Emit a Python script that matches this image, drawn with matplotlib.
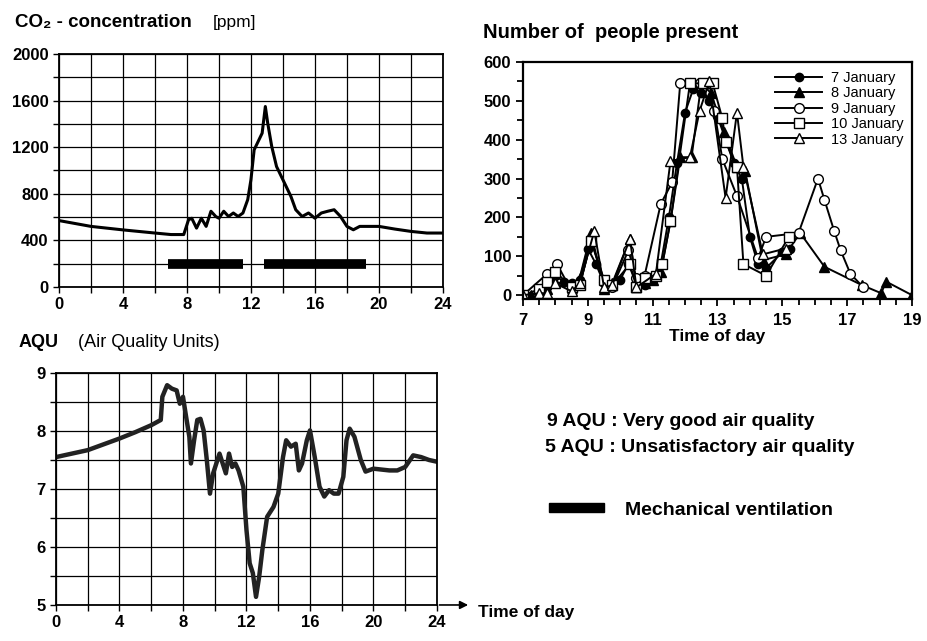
import matplotlib.pyplot as plt
import matplotlib.ticker as mticker
from matplotlib.patches import Rectangle, FancyArrowPatch

plt.rcParams['font.family'] = ['Liberation Sans', 'DejaVu Sans']

# CO2 concentration over the day
co2_hours = [0, 2, 4, 6, 7, 7.8, 8.1, 8.3, 8.6, 8.9, 9.2, 9.5, 9.8, 10, 10.3, 10.6, 10.9, 11.2, 11.5,
             11.8, 12.0, 12.2, 12.5, 12.7, 12.9, 13.05, 13.3, 13.6, 14, 14.5, 14.8, 15.2, 15.6, 16,
             16.4, 16.8, 17.2, 17.6, 18, 18.4, 18.8, 19.2, 20, 21, 22, 23, 24]
co2_ppm = [570, 520, 490, 463, 450, 450, 577, 590, 505, 590, 520, 650, 605, 590, 650, 605, 635, 605, 635,
           750, 920, 1177, 1263, 1320, 1549, 1405, 1206, 1034, 920, 777, 663, 605, 635, 590,
           635, 650, 663, 605, 520, 491, 520, 520, 520, 497, 477, 463, 463]
vent_start = [6.8, 12.8]
vent_end = [11.5, 19.2]

# AQU over the day
aqu_hours = [0, 2, 4, 5, 6, 6.6, 6.7, 7.0, 7.3, 7.6, 7.8, 8.0, 8.2, 8.4, 8.5, 8.7, 8.9, 9.1, 9.3, 9.5,
             9.7, 9.9, 10.1, 10.3, 10.5, 10.7, 10.9, 11.1, 11.3, 11.5, 11.8, 12.0, 12.2, 12.4, 12.6,
             12.8, 13.0, 13.3, 13.7, 14.0, 14.3, 14.5, 14.8, 15.1, 15.3, 15.5, 15.8, 16.0, 16.3, 16.6,
             16.9, 17.2, 17.5, 17.8, 18.1, 18.3, 18.5, 18.8, 19.2, 19.5, 20, 21, 21.5, 22, 22.5, 23,
             23.5, 24]
aqu_values = [7.55, 7.67, 7.87, 7.98, 8.10, 8.19, 8.59, 8.79, 8.73, 8.70, 8.47, 8.59, 8.24, 7.90, 7.44,
              7.84, 8.19, 8.21, 8.01, 7.50, 6.92, 7.27, 7.44, 7.61, 7.44, 7.27, 7.61, 7.38, 7.44, 7.32,
              7.04, 6.29, 5.72, 5.55, 5.14, 5.49, 5.95, 6.52, 6.69, 6.92, 7.55, 7.84, 7.73, 7.78, 7.32,
              7.44, 7.84, 8.01, 7.55, 7.04, 6.87, 6.98, 6.92, 6.92, 7.21, 7.84, 8.04, 7.90, 7.50, 7.30,
              7.35, 7.32, 7.32, 7.38, 7.58, 7.55, 7.50, 7.47]

# Number of people present
hour_ticks = [7, 9, 11, 13, 15, 17, 19]
jan7_t = [7.0, 7.5, 7.75, 8.0, 8.25, 8.5, 8.75, 9.0, 9.25, 9.5, 9.75, 10.0, 10.25, 10.5, 10.75, 11.0,
          11.25, 11.5, 11.75, 12.0, 12.25, 12.5, 12.75, 13.0, 13.25, 13.5, 13.75, 14.0, 14.25, 14.5,
          15.0, 15.25]
jan7_n = [0, 5, 20, 50, 35, 30, 40, 120, 80, 30, 20, 40, 80, 30, 25, 40,
          80, 200, 340, 470, 530, 520, 500, 460, 400, 340, 300, 150, 80, 70,
          110, 120]
jan8_t = [7.0, 7.25, 7.5, 7.75, 8.0, 8.5, 8.75, 9.1, 9.5, 9.75, 10.3, 10.5, 10.75, 11.0, 11.25, 11.55,
          11.85, 12.2, 12.5, 12.8, 13.2, 13.6, 13.85, 14.4, 15.1, 15.55, 16.3, 17.45, 18.05, 18.2, 19.0]
jan8_n = [0, 0, 5, 15, 35, 20, 45, 160, 15, 30, 145, 20, 30, 40, 60, 190,
          355, 355, 545, 520, 420, 330, 320, 90, 105, 160, 73, 26, 5, 35, 0]
jan9_t = [7.0, 7.75, 8.05, 8.5, 8.75, 9.1, 9.5, 9.75, 10.25, 10.5, 10.75, 11.25, 11.6, 11.85,
          12.15, 12.45, 12.9, 13.15, 13.6, 14.25, 14.5, 15.5, 16.1, 16.3, 16.6, 16.8, 17.1, 17.5]
jan9_n = [0, 55, 80, 10, 25, 140, 35, 20, 115, 45, 50, 235, 290, 545,
          545, 545, 475, 350, 255, 95, 150, 160, 300, 245, 165, 115, 55, 20]
jan10_t = [7.0, 7.5, 7.75, 8.0, 8.5, 8.75, 9.1, 9.5, 9.75, 10.3, 10.5, 10.75, 11.1, 11.3, 11.55,
           12.15, 12.55, 12.85, 13.15, 13.25, 13.6, 13.8, 14.5, 15.2]
jan10_n = [0, 15, 35, 60, 20, 25, 140, 40, 25, 80, 20, 45, 50, 80, 190,
           545, 545, 545, 455, 395, 330, 80, 50, 150]
jan13_t = [7.0, 7.5, 7.75, 8.0, 8.5, 8.75, 9.2, 9.5, 9.75, 10.3, 10.5, 11.1, 11.55, 12.15, 12.45,
           12.75, 13.25, 13.6, 13.8, 14.4, 15.1]
jan13_n = [0, 5, 5, 30, 10, 30, 165, 20, 25, 145, 20, 55, 345, 355, 475,
           550, 250, 470, 330, 105, 120]

fig = plt.figure(figsize=(9.27, 6.41), dpi=100)
TICK_SIZE = 12

# ---- CO2 panel ----
ax1 = fig.add_axes([0.0636, 0.5523, 0.4142, 0.3635])
ax1.plot(co2_hours, co2_ppm, color='black', lw=2.2)
ax1.hlines([200] * len(vent_start), vent_start, vent_end, color='black', lw=7)
ax1.set_xlim(0, 24)
ax1.set_ylim(0, 2000)
ax1.xaxis.set_major_locator(mticker.MultipleLocator(4))
ax1.xaxis.set_minor_locator(mticker.MultipleLocator(2))
ax1.yaxis.set_major_locator(mticker.MultipleLocator(400))
ax1.yaxis.set_minor_locator(mticker.MultipleLocator(200))
ax1.grid(which='both', color='black', lw=0.9)

# ---- people panel ----
ax2 = fig.add_axes([0.5642, 0.5335, 0.4196, 0.3698])
ax2.plot(jan7_t, jan7_n, '-o', color='black', mfc='black', ms=6, lw=1.4, label='7 January')
ax2.plot(jan8_t, jan8_n, '-^', color='black', mfc='black', ms=7, lw=1.4, label='8 January')
ax2.plot(jan9_t, jan9_n, '-o', color='black', mfc='white', ms=7, lw=1.4, label='9 January')
ax2.plot(jan10_t, jan10_n, '-s', color='black', mfc='white', ms=7, lw=1.4, label='10 January')
ax2.plot(jan13_t, jan13_n, '-^', color='black', mfc='white', ms=7, lw=1.4, label='13 January')
ax2.set_xlim(7, 19)
ax2.set_ylim(-10, 600)
ax2.xaxis.set_major_locator(mticker.FixedLocator(hour_ticks))
ax2.xaxis.set_minor_locator(mticker.MultipleLocator(0.5))
ax2.yaxis.set_major_locator(mticker.MultipleLocator(100))
ax2.yaxis.set_minor_locator(mticker.MultipleLocator(50))
ax2.tick_params(which='both', direction='out', width=1.3)
ax2.tick_params(which='major', length=5)
ax2.tick_params(which='minor', length=4)
ax2.tick_params(axis='x', pad=5)
for s in ax2.spines.values():
    s.set_linewidth(1.6)
ax2.set_xlabel('Time of day', fontsize=12.5, fontweight='bold', labelpad=1)
leg = ax2.legend(loc='upper right', frameon=False, fontsize=10.5, handlelength=3.2,
                 handletextpad=0.6, labelspacing=0.1, borderaxespad=0.2)

# ---- AQU panel ----
ax3 = fig.add_axes([0.0604, 0.0562, 0.4110, 0.3619])
ax3.plot(aqu_hours, aqu_values, color='#222222', lw=3.2)
ax3.set_xlim(0, 24)
ax3.set_ylim(5, 9)
ax3.xaxis.set_major_locator(mticker.MultipleLocator(4))
ax3.xaxis.set_minor_locator(mticker.MultipleLocator(2))
ax3.yaxis.set_major_locator(mticker.MultipleLocator(1))
ax3.yaxis.set_minor_locator(mticker.MultipleLocator(0.5))
ax3.grid(which='both', color='black', lw=0.9)

for ax in (ax1, ax2, ax3):
    for lab in ax.get_xticklabels() + ax.get_yticklabels():
        lab.set_fontsize(TICK_SIZE)
        lab.set_fontweight('bold')
for ax in (ax1, ax3):
    ax.tick_params(which='both', direction='out', length=4, width=1)
    for s in ax.spines.values():
        s.set_linewidth(1.3)

# arrow on AQU time axis
arrow = FancyArrowPatch((0.471, 0.0562), (0.508, 0.0562), transform=fig.transFigure,
                        arrowstyle='-|>', mutation_scale=12, color='black', lw=1.2)
fig.add_artist(arrow)
fig.text(0.516, 0.045, 'Time of day', fontsize=12.5, fontweight='bold', va='center')

# titles
fig.text(0.016, 0.965, 'CO₂ - concentration', fontsize=13.5, fontweight='bold', va='center')
fig.text(0.229, 0.965, '[ppm]', fontsize=12.5, va='center')
fig.text(0.521, 0.95, 'Number of  people present', fontsize=14.5, fontweight='bold', va='center')
fig.text(0.02, 0.465, 'AQU', fontsize=13, fontweight='bold', va='center')
fig.text(0.084, 0.465, '(Air Quality Units)', fontsize=13, va='center')

# notes
fig.text(0.59, 0.342, '9 AQU : Very good air quality', fontsize=14, fontweight='bold', va='center')
fig.text(0.588, 0.302, '5 AQU : Unsatisfactory air quality', fontsize=14, fontweight='bold', va='center')
fig.add_artist(Rectangle((0.592, 0.202), 0.06, 0.014, transform=fig.transFigure,
                         color='black'))
fig.text(0.674, 0.204, 'Mechanical ventilation', fontsize=14, fontweight='bold', va='center')

fig.savefig('out.png', dpi=100)
